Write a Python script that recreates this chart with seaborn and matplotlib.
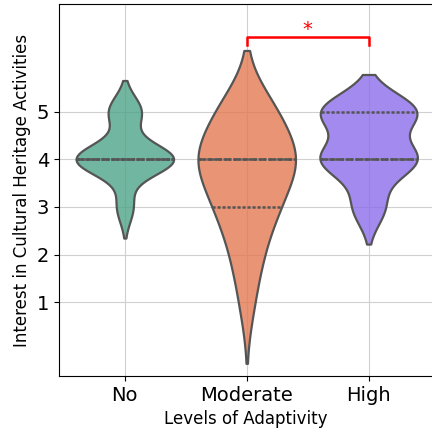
import numpy as np
import pandas as pd
import matplotlib
matplotlib.use("Agg")
import matplotlib.pyplot as plt
from matplotlib.colors import to_rgba
import seaborn as sns

# Likert scores and how many answers per score
groups = ["No", "Moderate", "High"]
scores = [1, 2, 3, 4, 5]
counts_no = [0, 0, 2, 12, 4]
counts_moderate = [1, 2, 4, 7, 4]
counts_high = [0, 0, 3, 9, 9]
# fill colours (drawn semi-transparent over the grid)
colors = ["#4ea488", "#e37a52", "#8c6dea"]

rows = []
for g, cnts in zip(groups, [counts_no, counts_moderate, counts_high]):
    for s, c in zip(scores, cnts):
        rows += [(g, s)] * c
df = pd.DataFrame(rows, columns=["Adaptivity", "Interest"])

fig = plt.figure(figsize=(4.32, 4.33), dpi=100)
ax = fig.add_axes([59 / 432, 1 - 376 / 433, 373 / 432, 372 / 433])

sns.violinplot(data=df, x="Adaptivity", y="Interest", hue="Adaptivity",
               order=groups, hue_order=groups, palette=colors, saturation=1,
               inner="quart", density_norm="width", linewidth=1.6,
               linecolor="#555555", inner_kws=dict(linewidth=1.8),
               legend=False, ax=ax)
for coll, c in zip(ax.collections, colors):
    coll.set_facecolor(to_rgba(c, 0.8))

# seaborn switches off the grid on the category axis, so set it afterwards
ax.set_axisbelow(True)
ax.grid(True, axis="both", color="#d0d0d0", lw=0.8)

# significance bracket between Moderate and High
ax.plot([1, 1, 2, 2], [6.40, 6.57, 6.57, 6.40], color="red", lw=1.8)
ax.text(1.5, 6.52, "*", ha="center", va="bottom", color="red", fontsize=14)

ax.set_ylim(-0.55, 7.26)
ax.set_xlim(-0.54, 2.52)
ax.set_yticks([1, 2, 3, 4, 5])
ax.spines["right"].set_visible(False)
ax.tick_params(axis="both", labelsize=14)
ax.set_xlabel("Levels of Adaptivity", fontsize=12)
ax.set_ylabel("Interest in Cultural Heritage Activities", fontsize=12)

fig.savefig("out.png", dpi=100)
